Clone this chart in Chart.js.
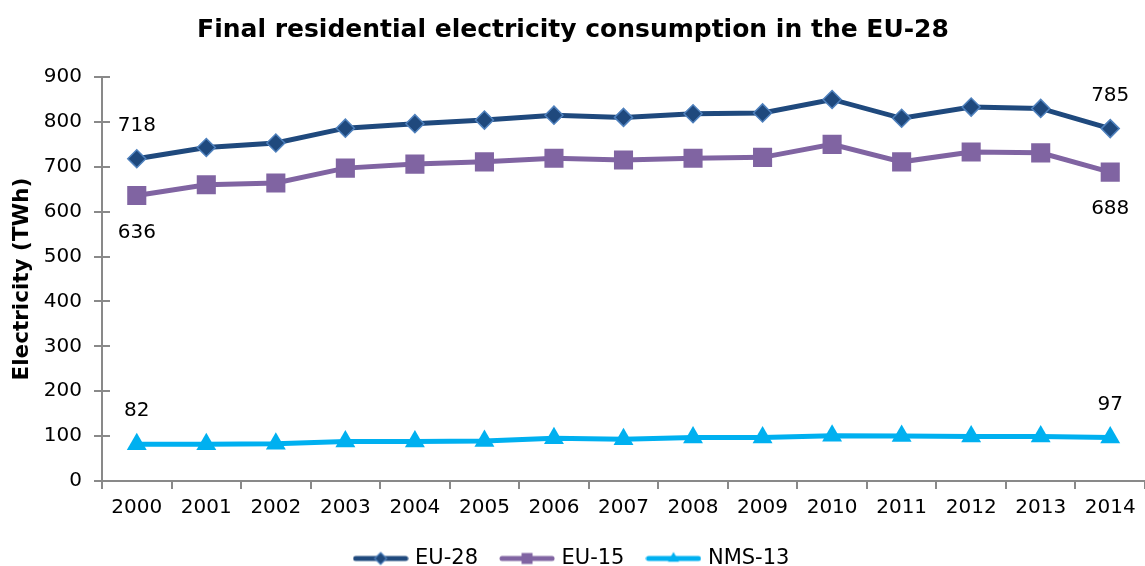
<!DOCTYPE html>
<html>
<head>
<meta charset="utf-8">
<script src="https://cdn.jsdelivr.net/npm/chart.js@4/dist/chart.umd.min.js"></script>
<style>
  html, body { margin: 0; padding: 0; background: #ffffff; }
  #wrap { width: 1145px; height: 566px; }
</style>
</head>
<body>
<div id="wrap"><canvas id="chart" width="1145" height="566"></canvas></div>
<script>
// Final residential electricity consumption (TWh), 2000-2014
const years = ['2000','2001','2002','2003','2004','2005','2006','2007','2008','2009','2010','2011','2012','2013','2014'];
const eu28  = [718, 743, 753, 786, 796, 804, 815, 810, 818, 820, 850, 808, 833, 830, 785];
const eu15  = [636, 660, 664, 697, 706, 711, 719, 715, 719, 721, 750, 711, 733, 731, 688];
const nms13 = [82, 82, 83, 88, 88, 89, 95, 93, 97, 97, 101, 100, 99, 99, 97];
const yTicks = [0, 100, 200, 300, 400, 500, 600, 700, 800, 900];

const FONT = 'DejaVu Sans, Verdana, sans-serif';
const AXIS_GREY = '#898989';
const C_EU28 = '#1F497D', C_EU28_EDGE = '#4F81BD';
const C_EU15 = '#8064A2';
const C_NMS = '#00B0F0';

// Legend icons: a short line with the series marker in the middle
function legendIcon(color, marker, edge) {
  const w = 56, h = 16;
  const cv = document.createElement('canvas');
  cv.width = w; cv.height = h;
  const g = cv.getContext('2d');
  const cy = h / 2, cx = w / 2;
  g.strokeStyle = color; g.lineWidth = 5; g.lineCap = 'round';
  g.beginPath(); g.moveTo(3, cy); g.lineTo(w - 3, cy); g.stroke();
  g.fillStyle = color;
  g.beginPath();
  if (marker === 'diamond') {
    const r = 6;
    g.moveTo(cx, cy - r); g.lineTo(cx + r, cy); g.lineTo(cx, cy + r); g.lineTo(cx - r, cy); g.closePath();
    g.fill();
    g.strokeStyle = edge; g.lineWidth = 1.2; g.stroke();
  } else if (marker === 'square') {
    g.rect(cx - 5.5, cy - 5.5, 11, 11); g.fill();
  } else {
    const r = 6.5;
    g.moveTo(cx, cy - r); g.lineTo(cx + r * 0.866, cy + r / 2); g.lineTo(cx - r * 0.866, cy + r / 2); g.closePath();
    g.fill();
  }
  return cv;
}
const legendIcons = [
  legendIcon(C_EU28, 'diamond', C_EU28_EDGE),
  legendIcon(C_EU15, 'square'),
  legendIcon(C_NMS, 'triangle')
];

// First and last values are written next to their markers
const labelShift = [-33, 37, -33];
const endLabels = {
  id: 'endLabels',
  afterDatasetsDraw(chart) {
    const ctx = chart.ctx;
    ctx.save();
    ctx.font = '20px ' + FONT;
    ctx.fillStyle = '#000000';
    ctx.textAlign = 'center';
    ctx.textBaseline = 'middle';
    chart.data.datasets.forEach((ds, i) => {
      const meta = chart.getDatasetMeta(i);
      [0, ds.data.length - 1].forEach(j => {
        const pt = meta.data[j];
        ctx.fillText(String(ds.data[j]), pt.x, pt.y + labelShift[i]);
      });
    });
    ctx.restore();
  }
};

// Short tick marks on the inner side of the value axis (ticks cross the axis)
const innerTicks = {
  id: 'innerTicks',
  afterDraw(chart) {
    const s = chart.scales.y;
    const ctx = chart.ctx;
    ctx.save();
    ctx.strokeStyle = AXIS_GREY;
    ctx.lineWidth = 2;
    s.ticks.forEach(t => {
      const y = Math.round(s.getPixelForValue(t.value));
      ctx.beginPath();
      ctx.moveTo(s.right, y);
      ctx.lineTo(s.right + 8, y);
      ctx.stroke();
    });
    ctx.restore();
  }
};

new Chart(document.getElementById('chart'), {
  type: 'line',
  data: {
    labels: years,
    datasets: [
      {
        label: 'EU-28', data: eu28,
        borderColor: C_EU28, borderWidth: 5, tension: 0,
        pointStyle: 'rectRot', pointRadius: 9,
        pointBackgroundColor: C_EU28, pointBorderColor: C_EU28_EDGE, pointBorderWidth: 1.5
      },
      {
        label: 'EU-15', data: eu15,
        borderColor: C_EU15, borderWidth: 5, tension: 0,
        pointStyle: 'rect', pointRadius: 13.5,
        pointBackgroundColor: C_EU15, pointBorderColor: C_EU15, pointBorderWidth: 0
      },
      {
        label: 'NMS-13', data: nms13,
        borderColor: C_NMS, borderWidth: 5, tension: 0,
        pointStyle: 'triangle', pointRadius: 11.5,
        pointBackgroundColor: C_NMS, pointBorderColor: C_NMS, pointBorderWidth: 0
      }
    ]
  },
  options: {
    responsive: false,
    animation: false,
    events: [],
    layout: { autoPadding: false, padding: { left: 0, right: -1, top: 0, bottom: -13 } },
    plugins: {
      title: {
        display: true,
        text: 'Final residential electricity consumption in the EU-28',
        color: '#000000',
        font: { family: FONT, size: 25, weight: 'bold' },
        padding: { top: 15, bottom: 32 }
      },
      legend: {
        position: 'bottom',
        labels: {
          usePointStyle: true,
          pointStyleWidth: 48,
          padding: 25,
          color: '#000000',
          font: { family: FONT, size: 21 },
          generateLabels(chart) {
            const items = Chart.defaults.plugins.legend.labels.generateLabels(chart);
            items.forEach((it, i) => { it.pointStyle = legendIcons[i]; });
            return items;
          }
        }
      },
      tooltip: { enabled: false }
    },
    scales: {
      x: {
        offset: true,
        afterFit(s) { s.height = 42; s.paddingLeft = 0; s.paddingRight = 0; },
        grid: { offset: true, drawOnChartArea: false, tickLength: 8, color: AXIS_GREY, lineWidth: 2 },
        border: { color: AXIS_GREY, width: 2 },
        ticks: { color: '#000000', font: { family: FONT, size: 20 }, padding: 7, maxRotation: 0, autoSkip: false }
      },
      y: {
        min: 0, max: 900,
        afterBuildTicks(s) { s.ticks = yTicks.map(v => ({ value: v })); },
        afterFit(s) { s.width = 102; },
        grid: { drawOnChartArea: false, tickLength: 8, color: AXIS_GREY, lineWidth: 2 },
        border: { color: AXIS_GREY, width: 2 },
        ticks: { color: '#000000', font: { family: FONT, size: 20 }, padding: 12 },
        title: {
          display: true,
          text: 'Electricity (TWh)',
          color: '#000000',
          font: { family: FONT, size: 21.5, weight: 'bold' },
          padding: { top: 10, bottom: 0 }
        }
      }
    }
  },
  plugins: [endLabels, innerTicks]
});
</script>
</body>
</html>
